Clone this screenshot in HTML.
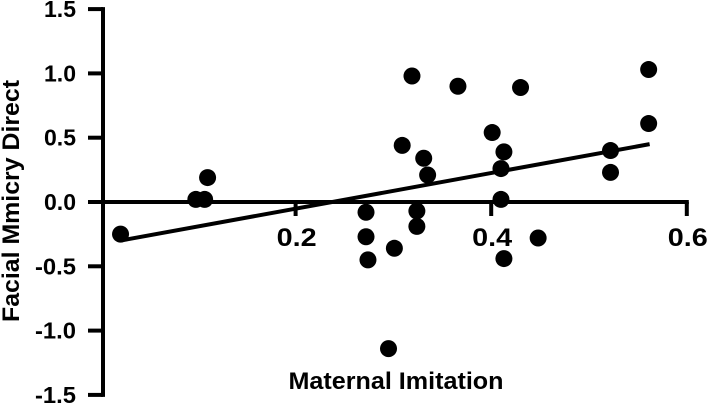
<!DOCTYPE html>
<html><head><meta charset="utf-8"><style>
html,body{margin:0;padding:0;background:#fff;}
svg{display:block;font-family:"Liberation Sans",Arial,sans-serif;font-weight:bold;}
</style></head><body>
<svg id="chart" width="709" height="406" viewBox="0 0 709 406"></svg>
<script>
const xValues=[0.021,0.098,0.107,0.110,0.319,0.366,0.430,0.561,0.561,0.401,0.309,0.331,0.335,0.413,0.410,0.522,0.522,0.410,0.272,0.272,0.274,0.301,0.324,0.324,0.448,0.413,0.295];
const yValues=[-0.25,0.02,0.02,0.19,0.98,0.90,0.89,1.03,0.61,0.54,0.44,0.34,0.21,0.39,0.26,0.40,0.23,0.02,-0.08,-0.27,-0.45,-0.36,-0.07,-0.19,-0.28,-0.44,-1.14];
const fitRange=[0.021,0.562];
const fitCoef=[-0.329,1.386];
const yTicks=[1.5,1.0,0.5,0.0,-0.5,-1.0,-1.5];
const yTickLabels=["1.5","1.0","0.5","0.0","-0.5","-1.0","-1.5"];
const xTicks=[0.2,0.4,0.6];
const xTickLabels=["0.2","0.4","0.6"];

const NS="http://www.w3.org/2000/svg";
const svg=document.getElementById('chart');
function X(v){return 100+v*978;}
function Y(v){return 202-v*128.6;}
function mk(tag,attrs,parent){const e=document.createElementNS(NS,tag);for(const k in attrs)e.setAttribute(k,attrs[k]);(parent||svg).appendChild(e);return e;}

let e=mk('line',{x1:103,y1:Y(1.5)-2,x2:103,y2:Y(-1.5)+2,stroke:'#000','stroke-width':4});


yTicks.forEach((t,i)=>{
  let tk=mk('line',{x1:88,y1:Y(t),x2:103,y2:Y(t),stroke:'#000','stroke-width':4});
  
  
  let tl=mk('text',{x:76,y:Y(t)+8,'text-anchor':'end','font-size':23,textLength:yTickLabels[i].length>3?41:32,lengthAdjust:'spacingAndGlyphs'});
  tl.textContent=yTickLabels[i];
  
  
});
e=mk('line',{x1:103,y1:202,x2:X(0.6)+2,y2:202,stroke:'#000','stroke-width':4});


xTicks.forEach((t,i)=>{
  let tk=mk('line',{x1:X(t),y1:202,x2:X(t),y2:216,stroke:'#000','stroke-width':4});
  
  
  let tl=mk('text',{x:X(t)+1,y:246,'text-anchor':'middle','font-size':25,textLength:40,lengthAdjust:'spacingAndGlyphs'});
  tl.textContent=xTickLabels[i];
  
  
});
e=mk('text',{x:396,y:389,'text-anchor':'middle','font-size':24,textLength:215,lengthAdjust:'spacingAndGlyphs'});
e.textContent='Maternal Imitation';


e=mk('text',{x:0,y:0,'text-anchor':'middle','font-size':24,textLength:242,lengthAdjust:'spacingAndGlyphs',transform:'translate(19,201) rotate(-90)'});
e.textContent='Facial Mmicry Direct';


e=mk('line',{x1:X(fitRange[0]),y1:Y(fitCoef[0]+fitCoef[1]*fitRange[0]),x2:X(fitRange[1]),y2:Y(fitCoef[0]+fitCoef[1]*fitRange[1]),stroke:'#000','stroke-width':4});


xValues.forEach((xv,i)=>{
  let c=mk('circle',{cx:X(xv),cy:Y(yValues[i]),r:8.5,fill:'#000'});
  
  
});
</script>
</body></html>
